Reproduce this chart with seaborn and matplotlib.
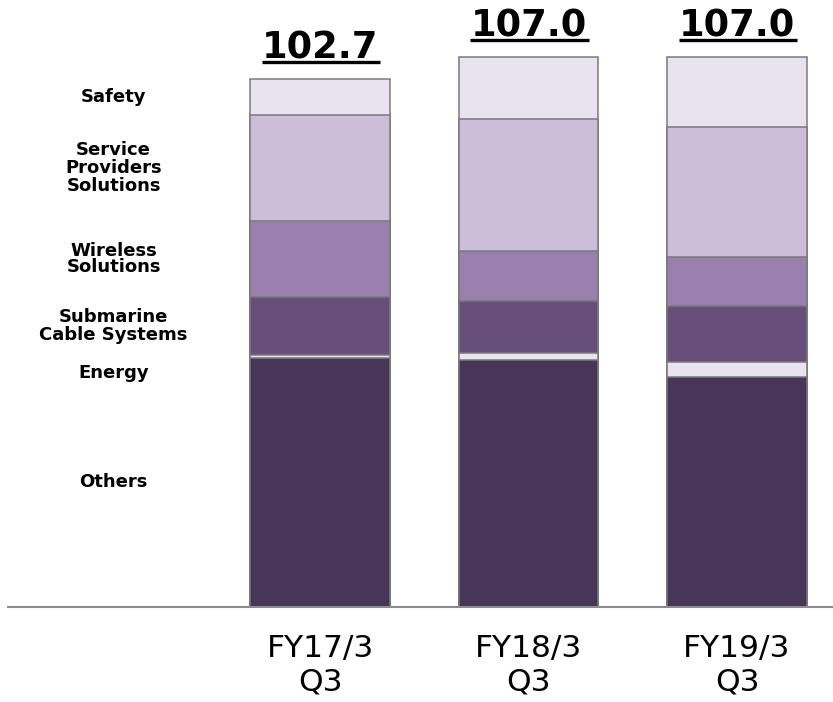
import numpy as np
import pandas as pd
import matplotlib
matplotlib.use("Agg")
import matplotlib.pyplot as plt
import seaborn as sns
from matplotlib.lines import Line2D
from matplotlib.transforms import IdentityTransform

# ---- data ----
periods = ["FY17/3\nQ3", "FY18/3\nQ3", "FY19/3\nQ3"]
segments = ["Others", "Energy", "Submarine\nCable Systems", "Wireless\nSolutions",
            "Service\nProviders\nSolutions", "Safety"]
others = [48.3, 48.0, 44.7]
energy = [0.6, 1.3, 2.9]
submarine = [11.4, 10.2, 10.8]
wireless = [14.7, 9.7, 9.7]
sps = [20.6, 25.7, 25.3]
safety = [7.1, 12.1, 13.6]

colors = ["#473657", "#E9E3EF", "#674E7B", "#9A80AE", "#CCBED8", "#E9E3EF"]

series = [others, energy, submarine, wireless, sps, safety]
values = np.array(series)           # shape (6, 3)
cum = np.cumsum(values, axis=0)     # cumulative tops
totals = cum[-1]

sns.set_theme(style="white")
plt.rcParams["font.family"] = ["DejaVu Sans"]

fig = plt.figure(figsize=(8.33, 7.02), dpi=100)
W, H = 833, 702
ax = fig.add_axes([8 / W, 95.5 / H, 825 / W, 606.5 / H])

# draw from top layer downwards (stacked overlay)
for k in range(len(segments) - 1, -1, -1):
    df = pd.DataFrame({"period": periods, "top": cum[k]})
    sns.barplot(data=df, x="period", y="top", order=periods, color=colors[k],
                saturation=1, width=0.67, edgecolor="#7a7a7a", linewidth=1.1,
                ax=ax)

ax.set_xlim(-1.4964, 2.4604)
ax.set_ylim(0, 606.5 / 5.137)
ax.set_xlabel("")
ax.set_ylabel("")
ax.set_yticks([])
for s in ["left", "right", "top"]:
    ax.spines[s].set_visible(False)
ax.spines["bottom"].set_color("#8c8c8c")
ax.spines["bottom"].set_linewidth(1.5)
ax.tick_params(axis="x", length=0, pad=19.5, labelsize=22.5, labelcolor="#000000")
for lab in ax.get_xticklabels():
    lab.set_linespacing(1.2)
    lab.set_ha("center")

# left segment labels, centred on first bar's segments
mids = cum[:, 0] - values[:, 0] / 2
spacing = {"Wireless\nSolutions": 0.85}
for k, name in enumerate(segments):
    if name == "Energy":
        ax.annotate(name, xy=(-0.99, cum[0, 0]), xytext=(0, -10.5),
                    textcoords="offset points", ha="center", va="center",
                    fontsize=13, fontweight="bold", color="#000000")
    else:
        ax.text(-0.99, mids[k], name, ha="center", va="center", fontsize=13,
                fontweight="bold", color="#000000",
                linespacing=spacing.get(name, 1.0))

# totals with underline
fig.canvas.draw()
renderer = fig.canvas.get_renderer()
for i, t in enumerate(totals):
    txt = ax.annotate(f"{t:.1f}", xy=(i, t), xytext=(0, 14.4),
                      textcoords="offset points", ha="center", va="baseline",
                      fontsize=26.5, fontweight="bold", color="#000000")
    bb = txt.get_window_extent(renderer)
    base_y = ax.transData.transform((i, t))[1] + 20
    uy = base_y - 3
    fig.add_artist(Line2D([bb.x0, bb.x1 + 2], [uy, uy], transform=IdentityTransform(),
                          color="#000000", linewidth=2.4, solid_capstyle="butt"))

fig.savefig("out.png", dpi=100, facecolor="white")
